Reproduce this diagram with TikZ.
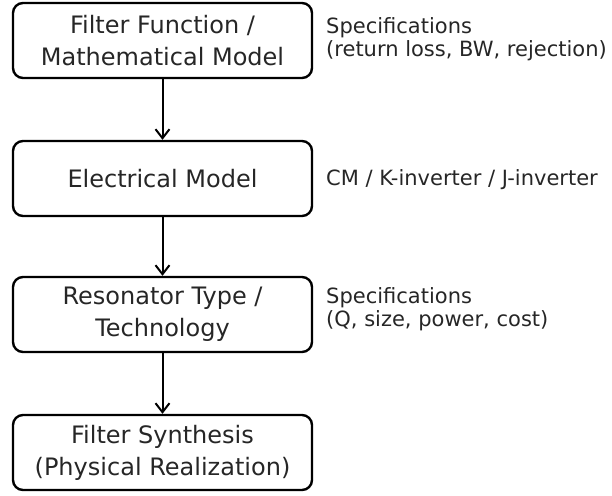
\documentclass[tikz,border=0pt]{standalone}
\usepackage{fontspec}
\setmainfont{DejaVu Sans}
\usetikzlibrary{arrows.meta}
\begin{document}
\begin{tikzpicture}[x=1pt,y=-1pt,
  box/.style={draw=black, line width=2.4pt, rounded corners=10pt, minimum width=299pt, minimum height=75pt, align=center, font=\fontsize{24}{32}\selectfont, inner sep=0pt, text=black!85},
  spec/.style={anchor=west, align=left, font=\fontsize{21}{23}\selectfont, inner sep=0pt, text=black!85},
  flow/.style={line width=2pt, -{Straight Barb[length=9pt,width=14pt,line width=2pt]}}]
\useasboundingbox (0,0) rectangle (612,495);
\node[box] (b1) at (162.5,40.5) {Filter Function /\\Mathematical Model};
\node[box] (b2) at (162.5,178.5) {Electrical Model};
\node[box] (b3) at (162.5,314.5) {Resonator Type /\\Technology};
\node[box] (b4) at (162.5,452.5) {Filter Synthesis\\(Physical Realization)};
\node[spec] (s1) at (326,39) {Specifications\\(return loss, BW, rejection)};
\node[spec] (s2) at (326,180) {CM / K-inverter / J-inverter};
\node[spec] (s3) at (326,309) {Specifications\\(Q, size, power, cost)};
\draw[flow] (b1) -- (b2);
\draw[flow] (b2) -- (b3);
\draw[flow] (b3) -- (b4);
\end{tikzpicture}
\end{document}
